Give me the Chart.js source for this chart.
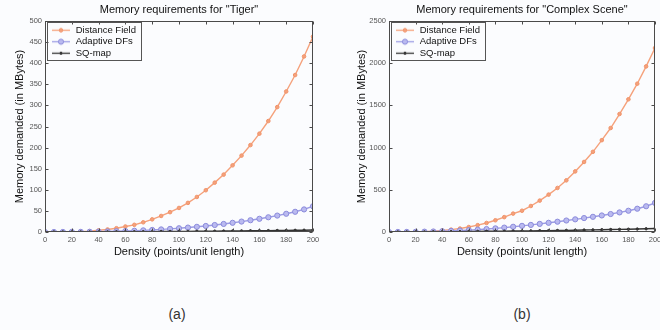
<!DOCTYPE html>
<html>
<head>
<meta charset="utf-8">
<script src="https://cdn.jsdelivr.net/npm/chart.js@4.4.1/dist/chart.umd.min.js"></script>
<style>
  body { margin: 0; background: #fbfcfe; width: 660px; height: 330px; overflow: hidden; position: relative;
         font-family: "Liberation Sans", Arial, sans-serif; }
  canvas { position: absolute; top: 0; }
  #tigerChart { left: 0; }
  #sceneChart { left: 330px; }
  .cap { position: absolute; top: 306px; width: 40px; text-align: center; font-size: 14px; color: #333; }
</style>
</head>
<body>
<canvas id="tigerChart" width="330" height="270"></canvas>
<canvas id="sceneChart" width="330" height="270"></canvas>
<div class="cap" style="left:157px">(a)</div>
<div class="cap" style="left:502px">(b)</div>
<script>
// density samples (points/unit length)
const density = [0, 6.67, 13.33, 20, 26.67, 33.33, 40, 46.67, 53.33, 60, 66.67, 73.33, 80, 86.67, 93.33, 100,
  106.67, 113.33, 120, 126.67, 133.33, 140, 146.67, 153.33, 160, 166.67, 173.33, 180, 186.67, 193.33, 200];
const seriesNames = ['Distance Field', 'Adaptive DFs', 'SQ-map'];

// (a) Tiger, MBytes
const tigerDistance = [0, 0, 0.1, 0.5, 1, 2, 4, 6, 9, 13, 17, 23, 30, 38, 47, 57, 69, 83, 99, 117, 136, 158, 181, 206, 233, 263, 296, 333, 372, 416, 463];
const tigerAdaptive = [0, 0, 0.1, 0.2, 0.3, 0.5, 0.8, 1.2, 1.7, 2.3, 3, 3.9, 4.9, 6.1, 7.4, 8.9, 10.5, 12.3, 14.3, 16.6, 19.1, 21.8, 24.7, 27.9, 31.3, 34.9, 38.9, 43.2, 47.9, 53.5, 61];
const tigerSqmap    = [0, 0, 0.1, 0.1, 0.2, 0.2, 0.3, 0.4, 0.5, 0.6, 0.7, 0.8, 0.9, 1.1, 1.2, 1.4, 1.5, 1.7, 1.9, 2.1, 2.3, 2.5, 2.7, 2.9, 3.1, 3.3, 3.5, 3.8, 4.0, 4.3, 4.6];

// (b) Complex Scene, MBytes
const sceneDistance = [0, 0, 1, 2, 5, 10, 17, 28, 41, 59, 81, 107, 139, 176, 218, 252, 308, 372, 443, 522, 612, 718, 830, 950, 1088, 1232, 1398, 1572, 1757, 1962, 2180];
const sceneAdaptive = [0, 0.5, 1, 2, 4, 6, 9, 13, 17, 22, 28, 35, 43, 52, 62, 73, 84, 96, 109, 122, 136, 150, 165, 180, 196, 213, 232, 252, 276, 305, 345];
const sceneSqmap    = [0, 0.5, 1, 1.5, 2, 3, 3.5, 4, 5, 6, 7, 8, 9, 10, 11, 12, 13.5, 15, 16.5, 18, 19.5, 21, 23, 25, 27, 29, 31, 33, 35, 38, 41];

const FONT = '"Liberation Sans", Arial, sans-serif';
const styles = [
  { line: '#f5a17b', fill: '#f5a17b', border: '#f0946b', radius: 1.8, order: 2 },
  { line: '#9b9be4', fill: '#babaf0', border: '#8b8bdb', radius: 2.6, order: 1 },
  { line: '#333333', fill: '#333333', border: '#333333', radius: 1.2, order: 0 },
];

// small line+marker sample for the legend
function legendIcon(s) {
  const c = document.createElement('canvas');
  c.width = 24; c.height = 9;
  const g = c.getContext('2d');
  g.strokeStyle = s.line; g.lineWidth = 1.3;
  g.beginPath(); g.moveTo(5, 4.5); g.lineTo(23, 4.5); g.stroke();
  g.fillStyle = s.fill; g.strokeStyle = s.border; g.lineWidth = 1;
  g.beginPath(); g.arc(14, 4.5, s.radius, 0, Math.PI * 2); g.fill(); g.stroke();
  return c;
}
const icons = styles.map(legendIcon);

const framePlugin = {
  id: 'frame',
  beforeDraw(chart) {
    // chartArea legend keeps top = 0 when laid out vertically; move it into the plot box
    const lg = chart.legend, a = chart.chartArea;
    const dy = a.top + 2.5 - lg.top;
    if (dy) {
      lg.top += dy; lg.bottom += dy;
      lg.legendHitBoxes.forEach(h => { h.top += dy; });
    }
  },
  afterDraw(chart) {
    const { ctx, chartArea: a, scales: { x, y } } = chart;
    ctx.save();
    ctx.strokeStyle = '#4a4a4a';
    ctx.lineWidth = 1;
    const L = Math.round(a.left) + 0.5, R = Math.round(a.right) - 0.5;
    const T = Math.round(a.top) + 0.5, B = Math.round(a.bottom) - 0.5;
    ctx.strokeRect(L, T, R - L, B - T);
    ctx.beginPath();
    x.ticks.forEach(t => {
      const px = Math.round(x.getPixelForValue(t.value)) + 0.5;
      ctx.moveTo(px, B); ctx.lineTo(px, B - 3);
      ctx.moveTo(px, T); ctx.lineTo(px, T + 3);
    });
    y.ticks.forEach(t => {
      const py = Math.round(y.getPixelForValue(t.value)) + 0.5;
      ctx.moveTo(L, py); ctx.lineTo(L + 3, py);
      ctx.moveTo(R, py); ctx.lineTo(R - 3, py);
    });
    ctx.stroke();
    // legend frame
    const hb = chart.legend.legendHitBoxes;
    if (hb && hb.length) {
      const right = Math.max(...hb.map(h => h.left + h.width)) + 6;
      const bottom = Math.max(...hb.map(h => h.top + h.height)) + 2.5;
      const left = Math.round(a.left) + 2.5, top = Math.round(a.top) + 1.5;
      ctx.strokeStyle = '#555';
      ctx.strokeRect(left, top, Math.round(right - left), Math.round(bottom - top));
    }
    ctx.restore();
  }
};

function makeChart(id, title, values, yMax, yStep, padLeft, yWidth, padRight) {
  const datasets = values.map((vals, i) => ({
    label: seriesNames[i],
    data: density.map((d, k) => ({ x: d, y: vals[k] })),
    borderColor: styles[i].line,
    borderWidth: 1.4,
    pointRadius: styles[i].radius,
    pointBackgroundColor: styles[i].fill,
    pointBorderColor: styles[i].border,
    pointBorderWidth: 1,
    order: styles[i].order,
    tension: 0,
  }));
  return new Chart(document.getElementById(id).getContext('2d'), {
    type: 'line',
    data: { datasets },
    options: {
      responsive: false, animation: false, devicePixelRatio: 1,
      layout: { padding: { left: padLeft, right: padRight, top: 0, bottom: 11.4 } },
      plugins: {
        tooltip: { enabled: false },
        title: {
          display: true, text: title, fullSize: false, color: '#111',
          font: { family: FONT, size: 11, weight: 'normal' }, padding: { top: 3.4, bottom: 4.4 },
        },
        legend: {
          position: 'chartArea', align: 'start',
          labels: {
            usePointStyle: true, pointStyleWidth: 24, boxHeight: 9, padding: 2,
            color: '#111', font: { family: FONT, size: 9.5 },
            sort: (a, b) => a.datasetIndex - b.datasetIndex,
            generateLabels: chart => Chart.defaults.plugins.legend.labels.generateLabels(chart)
              .map(l => Object.assign(l, { pointStyle: icons[l.datasetIndex] })),
          },
        },
      },
      scales: {
        x: {
          type: 'linear', min: 0, max: 200,
          grid: { display: false, drawTicks: false }, border: { display: false },
          ticks: { stepSize: 20, padding: 3, maxRotation: 0, color: '#555', font: { family: FONT, size: 7.5 } },
          title: { display: true, text: 'Density (points/unit length)', color: '#111', padding: 0,
                   font: { family: FONT, size: 11 } },
          afterFit: s => { s.height = 26.6; s.paddingLeft = 0; s.paddingRight = 0; },
        },
        y: {
          min: 0, max: yMax,
          grid: { display: false, drawTicks: false }, border: { display: false },
          ticks: { stepSize: yStep, padding: 3, color: '#555', font: { family: FONT, size: 7.5 },
                   callback: v => String(v) },
          title: { display: true, text: 'Memory demanded (in MBytes)', color: '#111', padding: 0,
                   font: { family: FONT, size: 11 } },
          afterFit: s => { s.width = yWidth; },
        },
      },
    },
    plugins: [framePlugin],
  });
}

makeChart('tigerChart', 'Memory requirements for "Tiger"',
  [tigerDistance, tigerAdaptive, tigerSqmap], 500, 50, 13.4, 31.6, 17);
makeChart('sceneChart', 'Memory requirements for "Complex Scene"',
  [sceneDistance, sceneAdaptive, sceneSqmap], 2500, 500, 25.4, 33.6, 4);
</script>
</body>
</html>
